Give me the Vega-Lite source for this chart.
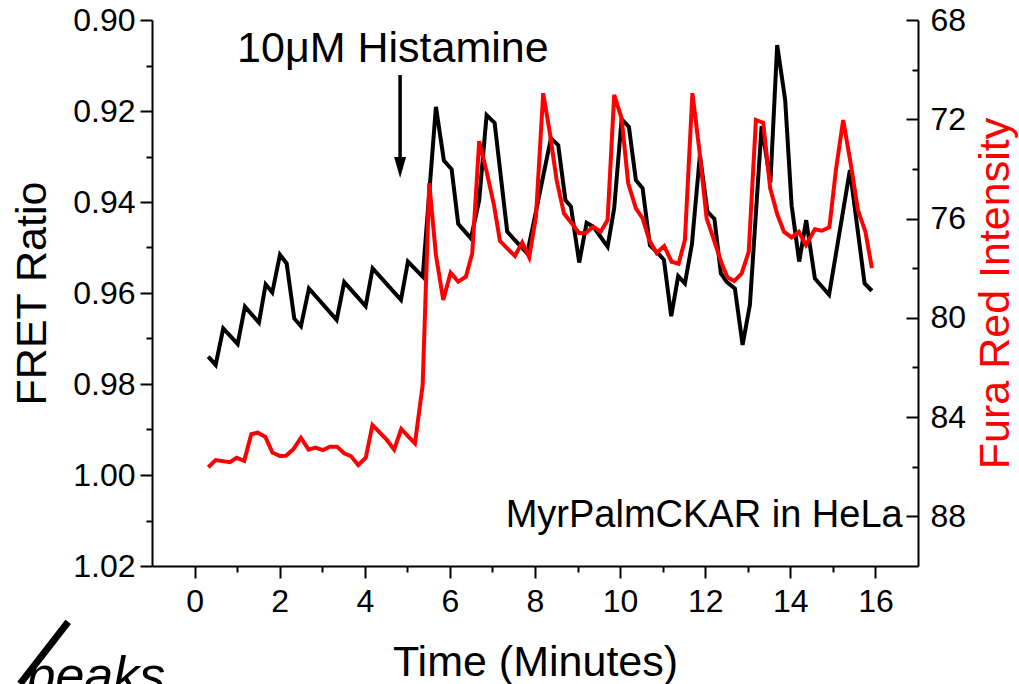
{
  "$schema": "https://vega.github.io/schema/vega-lite/v6.json",
  "width": 766,
  "height": 546,
  "autosize": "none",
  "padding": {"left": 152, "top": 20, "right": 101, "bottom": 118},
  "background": "white",
  "config": {
    "view": {"stroke": null},
    "font": "Liberation Sans",
    "axis": {
      "domainColor": "black",
      "domainWidth": 2,
      "tickColor": "black",
      "tickWidth": 2,
      "labelColor": "black",
      "labelFont": "Liberation Sans",
      "labelFontSize": 32,
      "titleFont": "Liberation Sans",
      "titleFontSize": 43,
      "titleFontWeight": "normal",
      "titleColor": "black",
      "grid": false
    }
  },
  "datasets": {
    "fret": [
      {"t": 0.322, "v": 0.9740}, {"t": 0.496, "v": 0.9758}, {"t": 0.674, "v": 0.9678}, {"t": 1.013, "v": 0.9712},
      {"t": 1.184, "v": 0.9630}, {"t": 1.513, "v": 0.9665}, {"t": 1.671, "v": 0.9581}, {"t": 1.826, "v": 0.9599},
      {"t": 2.007, "v": 0.9516}, {"t": 2.164, "v": 0.9535}, {"t": 2.343, "v": 0.9656}, {"t": 2.500, "v": 0.9673},
      {"t": 2.688, "v": 0.9590}, {"t": 3.339, "v": 0.9659}, {"t": 3.517, "v": 0.9576}, {"t": 4.020, "v": 0.9629},
      {"t": 4.185, "v": 0.9546}, {"t": 4.850, "v": 0.9615}, {"t": 5.014, "v": 0.9531}, {"t": 5.362, "v": 0.9564},
      {"t": 5.672, "v": 0.9191}, {"t": 5.860, "v": 0.9309}, {"t": 6.041, "v": 0.9328}, {"t": 6.196, "v": 0.9448},
      {"t": 6.494, "v": 0.9480}, {"t": 6.689, "v": 0.9396}, {"t": 6.863, "v": 0.9209}, {"t": 7.051, "v": 0.9226},
      {"t": 7.347, "v": 0.9465}, {"t": 7.528, "v": 0.9484}, {"t": 7.817, "v": 0.9513}, {"t": 8.022, "v": 0.9421},
      {"t": 8.374, "v": 0.9260}, {"t": 8.546, "v": 0.9275}, {"t": 8.715, "v": 0.9396}, {"t": 8.844, "v": 0.9410},
      {"t": 9.039, "v": 0.9533}, {"t": 9.213, "v": 0.9446}, {"t": 9.368, "v": 0.9454}, {"t": 9.706, "v": 0.9498},
      {"t": 9.861, "v": 0.9414}, {"t": 10.035, "v": 0.9218}, {"t": 10.207, "v": 0.9235}, {"t": 10.371, "v": 0.9352},
      {"t": 10.529, "v": 0.9370}, {"t": 10.700, "v": 0.9495}, {"t": 10.895, "v": 0.9513}, {"t": 11.029, "v": 0.9527},
      {"t": 11.201, "v": 0.9651}, {"t": 11.365, "v": 0.9563}, {"t": 11.523, "v": 0.9579}, {"t": 11.687, "v": 0.9493},
      {"t": 11.875, "v": 0.9297}, {"t": 12.051, "v": 0.9421}, {"t": 12.216, "v": 0.9437}, {"t": 12.368, "v": 0.9557},
      {"t": 12.509, "v": 0.9576}, {"t": 12.697, "v": 0.9590}, {"t": 12.878, "v": 0.9714}, {"t": 13.050, "v": 0.9626},
      {"t": 13.325, "v": 0.9233}, {"t": 13.532, "v": 0.9357}, {"t": 13.691, "v": 0.9055}, {"t": 13.879, "v": 0.9176},
      {"t": 14.030, "v": 0.9407}, {"t": 14.208, "v": 0.9531}, {"t": 14.373, "v": 0.9440}, {"t": 14.577, "v": 0.9568},
      {"t": 14.911, "v": 0.9604}, {"t": 15.400, "v": 0.9330}, {"t": 15.745, "v": 0.9579}, {"t": 15.917, "v": 0.9595}
    ],
    "fura": [
      {"t": 0.322, "f": 86.02}, {"t": 0.496, "f": 85.73}, {"t": 0.832, "f": 85.82}, {"t": 0.989, "f": 85.64},
      {"t": 1.168, "f": 85.76}, {"t": 1.332, "f": 84.69}, {"t": 1.483, "f": 84.63}, {"t": 1.661, "f": 84.79},
      {"t": 1.830, "f": 85.43}, {"t": 2.007, "f": 85.57}, {"t": 2.148, "f": 85.56}, {"t": 2.319, "f": 85.30},
      {"t": 2.500, "f": 84.84}, {"t": 2.681, "f": 85.31}, {"t": 2.841, "f": 85.23}, {"t": 3.017, "f": 85.33},
      {"t": 3.181, "f": 85.19}, {"t": 3.346, "f": 85.19}, {"t": 3.515, "f": 85.46}, {"t": 3.675, "f": 85.57},
      {"t": 3.846, "f": 85.93}, {"t": 4.023, "f": 85.64}, {"t": 4.180, "f": 84.32}, {"t": 4.514, "f": 84.91},
      {"t": 4.690, "f": 85.31}, {"t": 4.857, "f": 84.48}, {"t": 5.179, "f": 85.06}, {"t": 5.360, "f": 82.71},
      {"t": 5.515, "f": 74.58}, {"t": 5.672, "f": 77.47}, {"t": 5.844, "f": 79.28}, {"t": 6.017, "f": 78.18},
      {"t": 6.196, "f": 78.54}, {"t": 6.377, "f": 78.34}, {"t": 6.525, "f": 77.40}, {"t": 6.689, "f": 72.88},
      {"t": 6.863, "f": 74.11}, {"t": 7.035, "f": 75.45}, {"t": 7.176, "f": 76.90}, {"t": 7.347, "f": 77.20},
      {"t": 7.528, "f": 77.51}, {"t": 7.700, "f": 76.96}, {"t": 7.864, "f": 77.56}, {"t": 8.022, "f": 75.93},
      {"t": 8.193, "f": 70.95}, {"t": 8.351, "f": 72.57}, {"t": 8.508, "f": 74.45}, {"t": 8.680, "f": 75.79},
      {"t": 8.860, "f": 76.19}, {"t": 9.039, "f": 76.59}, {"t": 9.196, "f": 76.57}, {"t": 9.368, "f": 76.33},
      {"t": 9.542, "f": 76.53}, {"t": 9.706, "f": 76.06}, {"t": 9.861, "f": 71.02}, {"t": 10.035, "f": 71.96},
      {"t": 10.190, "f": 74.58}, {"t": 10.371, "f": 75.59}, {"t": 10.529, "f": 75.99}, {"t": 10.684, "f": 76.86},
      {"t": 10.858, "f": 77.39}, {"t": 11.036, "f": 77.11}, {"t": 11.210, "f": 77.74}, {"t": 11.375, "f": 77.82},
      {"t": 11.523, "f": 76.86}, {"t": 11.699, "f": 70.95}, {"t": 11.859, "f": 73.20}, {"t": 12.033, "f": 75.99},
      {"t": 12.216, "f": 76.92}, {"t": 12.385, "f": 77.80}, {"t": 12.521, "f": 78.37}, {"t": 12.679, "f": 78.52},
      {"t": 12.855, "f": 78.22}, {"t": 13.022, "f": 77.34}, {"t": 13.191, "f": 72.03}, {"t": 13.362, "f": 72.14},
      {"t": 13.527, "f": 74.78}, {"t": 13.691, "f": 75.82}, {"t": 13.849, "f": 76.53}, {"t": 14.030, "f": 76.76},
      {"t": 14.201, "f": 76.53}, {"t": 14.366, "f": 77.07}, {"t": 14.577, "f": 76.43}, {"t": 14.742, "f": 76.49},
      {"t": 14.918, "f": 76.35}, {"t": 15.071, "f": 74.04}, {"t": 15.242, "f": 72.03}, {"t": 15.423, "f": 73.84},
      {"t": 15.588, "f": 75.66}, {"t": 15.764, "f": 76.53}, {"t": 15.917, "f": 78.00}
    ]
  },
  "encoding": {
    "x": {
      "field": "t", "type": "quantitative",
      "scale": {"domain": [-1, 17], "nice": false, "zero": false},
      "axis": {
        "title": "Time (Minutes)",
        "values": [0, 1, 2, 3, 4, 5, 6, 7, 8, 9, 10, 11, 12, 13, 14, 15, 16],
        "labelExpr": "datum.value % 2 == 0 ? datum.label : ''",
        "tickSize": {"condition": {"test": "datum.value % 2 == 0", "value": 12}, "value": 6},
        "labelPadding": 8,
        "titlePadding": 24,
        "labelFlush": false,
        "labelOverlap": false
      }
    }
  },
  "layer": [
    {
      "data": {"name": "fret"},
      "mark": {"type": "line", "color": "black", "strokeWidth": 4, "strokeJoin": "miter"},
      "encoding": {
        "y": {
          "field": "v", "type": "quantitative",
          "scale": {"domain": [0.90, 1.02], "reverse": true, "nice": false, "zero": false},
          "axis": {
            "title": "FRET Ratio",
            "values": [0.90, 0.91, 0.92, 0.93, 0.94, 0.95, 0.96, 0.97, 0.98, 0.99, 1.00, 1.01, 1.02],
            "labelExpr": "round(datum.value * 100) % 2 == 0 ? format(datum.value, '.2f') : ''",
            "tickSize": {"condition": {"test": "round(datum.value * 100) % 2 == 0", "value": 12}, "value": 6},
            "labelPadding": 5,
            "titlePadding": 18,
            "labelFlush": false,
            "labelOverlap": false
          }
        }
      }
    },
    {
      "data": {"name": "fura"},
      "mark": {"type": "line", "color": "#ff0000", "strokeWidth": 4, "strokeJoin": "miter"},
      "encoding": {
        "y": {
          "field": "f", "type": "quantitative",
          "scale": {"domain": [68, 90], "reverse": true, "nice": false, "zero": false},
          "axis": {
            "orient": "right",
            "title": "Fura Red Intensity",
            "titleColor": "#ff0000",
            "titleAngle": -90,
            "values": [68, 70, 72, 74, 76, 78, 80, 82, 84, 86, 88],
            "labelExpr": "datum.value % 4 == 0 ? datum.label : ''",
            "tickSize": {"condition": {"test": "datum.value % 4 == 0", "value": -12}, "value": -6},
            "labelPadding": 24,
            "titlePadding": 52,
            "labelFlush": false,
            "labelOverlap": false
          }
        }
      }
    },
    {
      "data": {"values": [{"t": 4.83, "v": 0.9121, "v2": 0.9308}]},
      "mark": {"type": "rule", "color": "black", "strokeWidth": 3.5},
      "encoding": {
        "y": {"field": "v", "type": "quantitative", "axis": null, "scale": {"domain": [0.90, 1.02], "reverse": true, "nice": false, "zero": false}},
        "y2": {"field": "v2"}
      }
    },
    {
      "data": {"values": [{"t": 4.83, "v": 0.9324}]},
      "mark": {"type": "point", "shape": "M-0.57,-1L0.57,-1L0,1Z", "filled": true, "color": "black", "opacity": 1, "size": 441},
      "encoding": {
        "y": {"field": "v", "type": "quantitative", "axis": null, "scale": {"domain": [0.90, 1.02], "reverse": true, "nice": false, "zero": false}}
      }
    },
    {
      "data": {"values": [{"t": 1.0, "v": 0.9092, "text": "10μM Histamine"}]},
      "mark": {"type": "text", "fontSize": 43, "color": "black", "baseline": "alphabetic", "align": "left", "font": "Liberation Sans"},
      "encoding": {
        "y": {"field": "v", "type": "quantitative", "axis": null, "scale": {"domain": [0.90, 1.02], "reverse": true, "nice": false, "zero": false}},
        "text": {"field": "text"}
      }
    },
    {
      "data": {"values": [{"t": 16.64, "v": 1.0114, "text": "MyrPalmCKAR in HeLa"}]},
      "mark": {"type": "text", "fontSize": 38, "color": "black", "baseline": "alphabetic", "align": "right", "font": "Liberation Sans"},
      "encoding": {
        "y": {"field": "v", "type": "quantitative", "axis": null, "scale": {"domain": [0.90, 1.02], "reverse": true, "nice": false, "zero": false}},
        "text": {"field": "text"}
      }
    },
    {
      "data": {"values": [{"t": -3.95, "v": 1.0479, "text": "peaks"}]},
      "mark": {"type": "text", "fontSize": 52, "fontStyle": "italic", "color": "black", "baseline": "alphabetic", "align": "left", "font": "Liberation Sans"},
      "encoding": {
        "y": {"field": "v", "type": "quantitative", "axis": null, "scale": {"domain": [0.90, 1.02], "reverse": true, "nice": false, "zero": false}},
        "text": {"field": "text"}
      }
    },
    {
      "data": {"values": [{"t": -4.1, "t2": -2.97, "v": 1.0459, "v2": 1.0323}]},
      "mark": {"type": "rule", "color": "black", "strokeWidth": 7},
      "encoding": {
        "x2": {"field": "t2"},
        "y": {"field": "v", "type": "quantitative", "axis": null, "scale": {"domain": [0.90, 1.02], "reverse": true, "nice": false, "zero": false}},
        "y2": {"field": "v2"}
      }
    }
  ],
  "resolve": {"scale": {"y": "independent"}}
}
